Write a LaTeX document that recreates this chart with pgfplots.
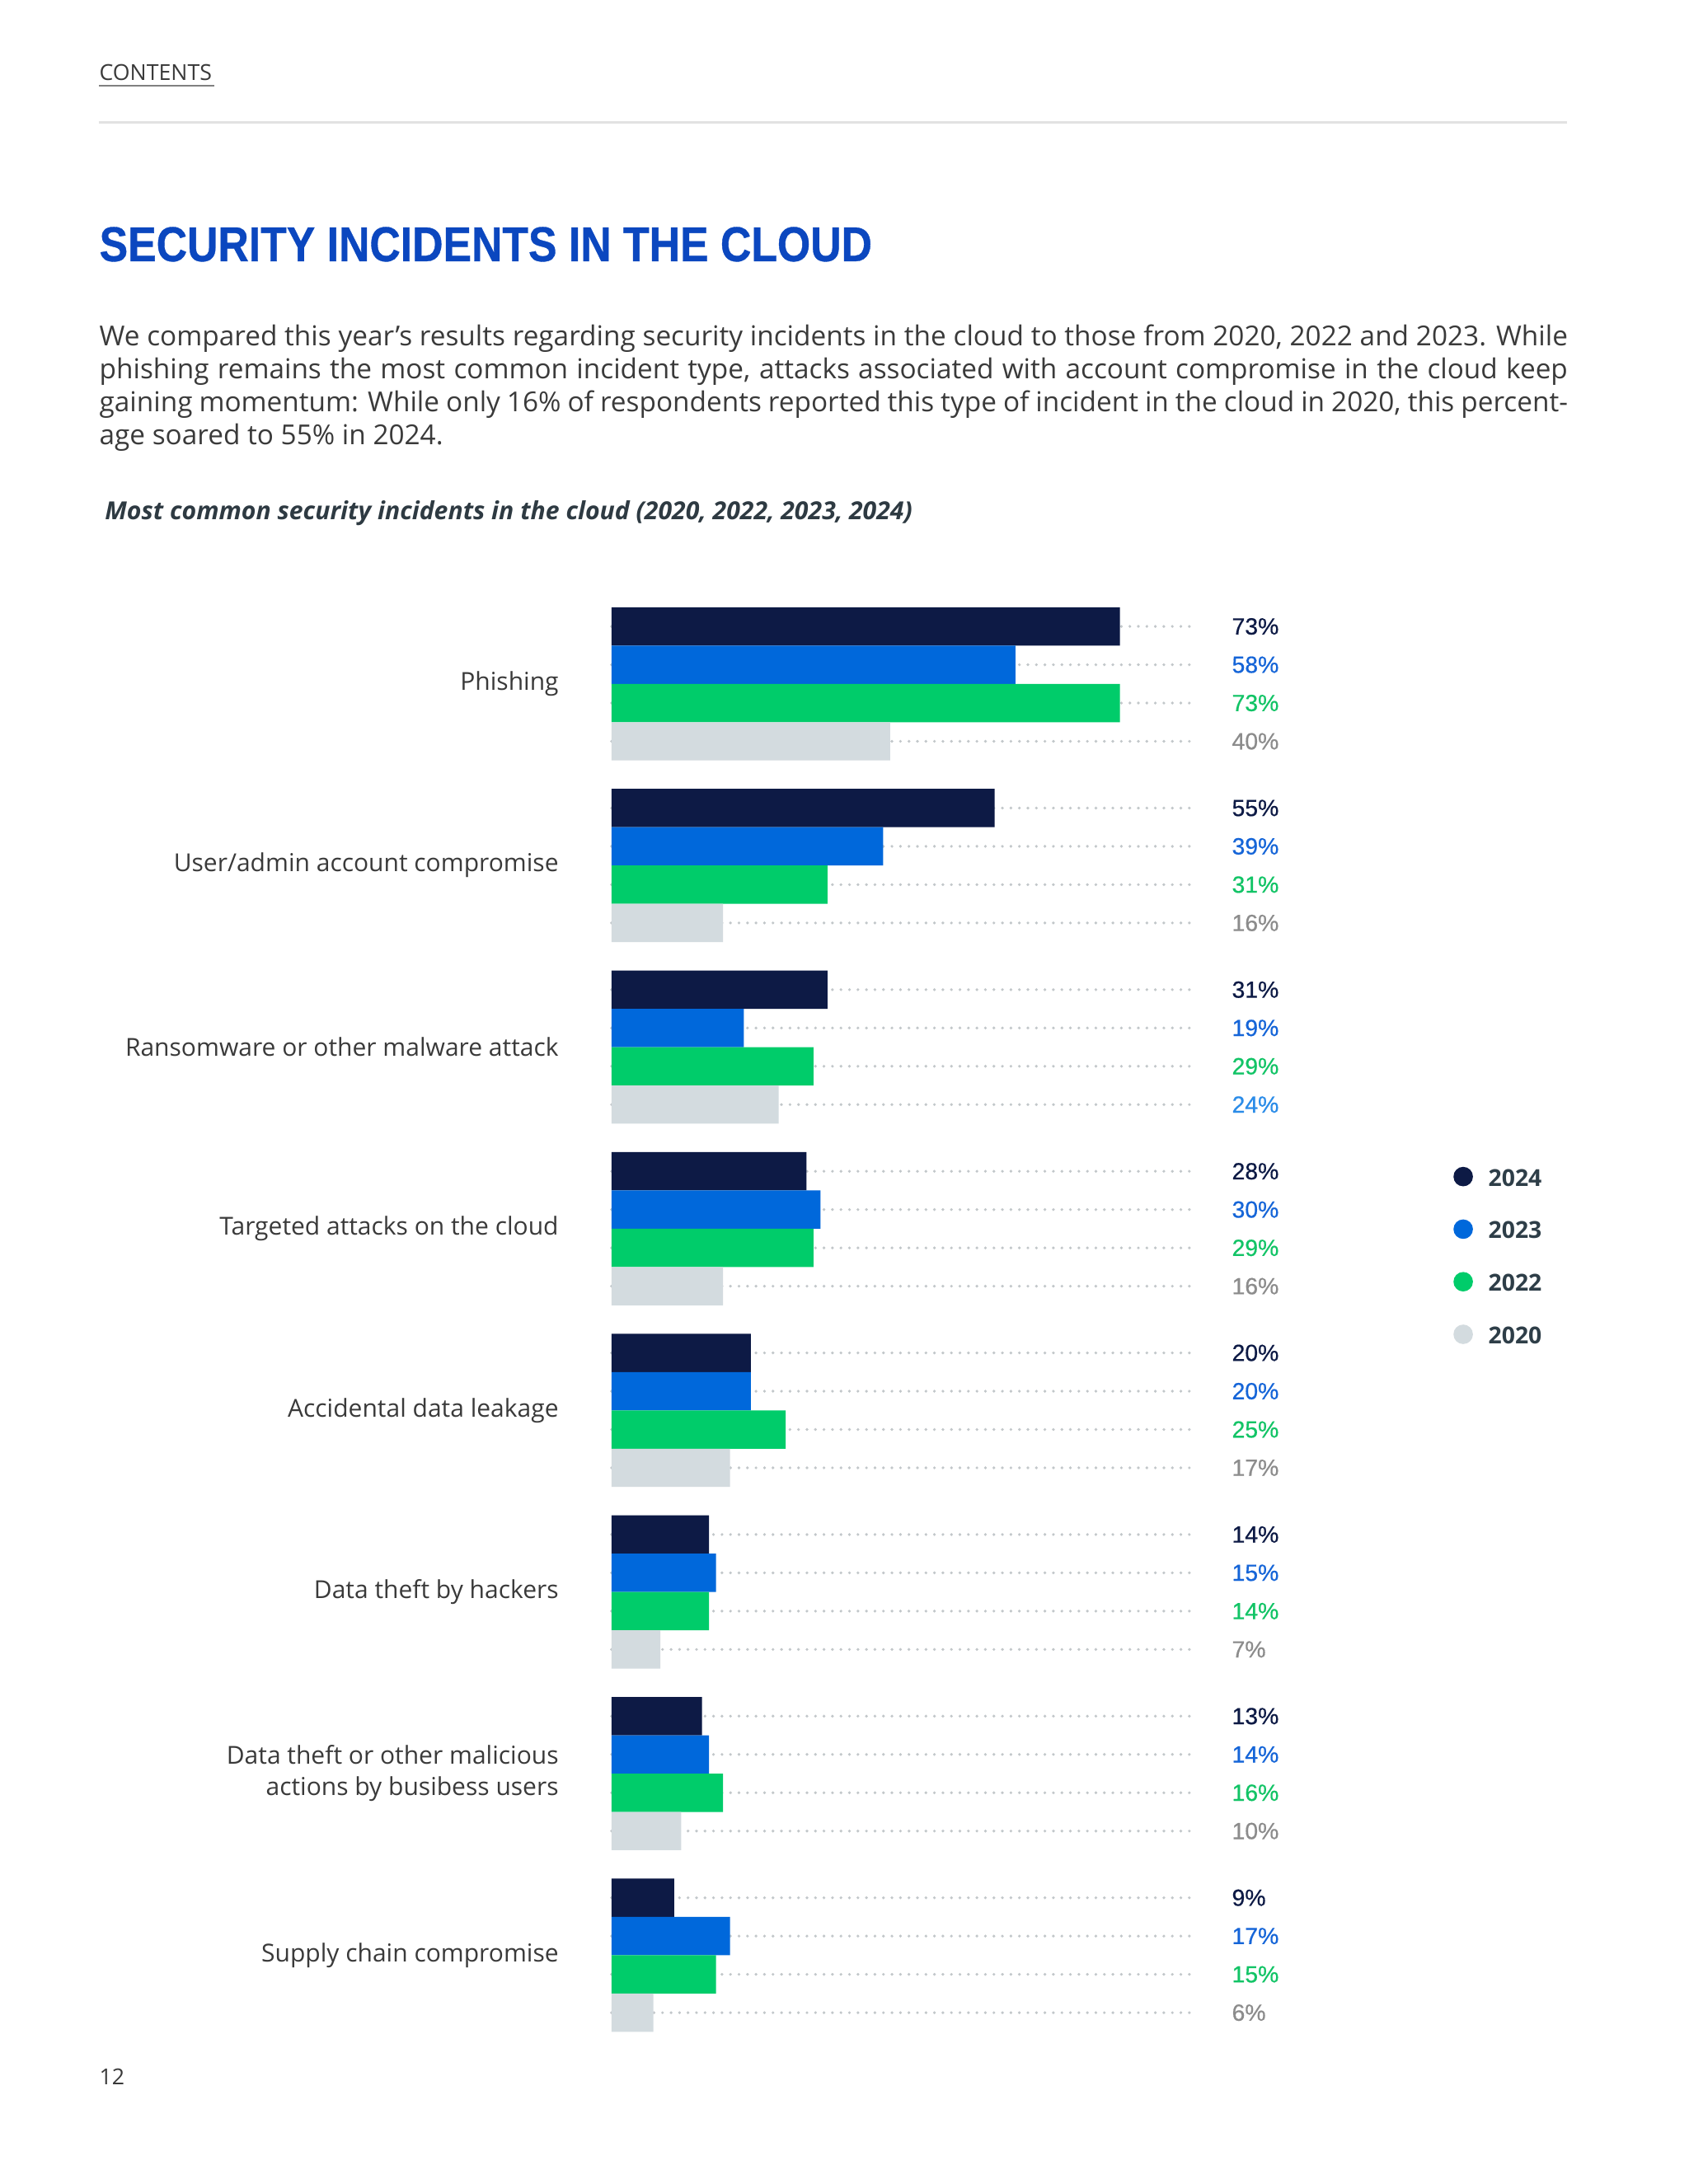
\documentclass[border=0pt]{standalone}
\usepackage{pgfplots}
\pgfplotsset{compat=1.18}
\usepackage{pgfplotstable}
\usepackage{fontspec}
\setmainfont{Open Sans}
\newfontfamily\titlefont[FakeStretch=0.872, FakeBold=0.6]{Liberation Sans}
\newfontfamily\numfont[FakeBold=0.5]{Liberation Sans}

\definecolor{c2024}{HTML}{0D1A45}
\definecolor{c2023}{HTML}{0068DB}
\definecolor{c2022}{HTML}{00CC6A}
\definecolor{c2020}{HTML}{D3DBDF}
\definecolor{l2023}{HTML}{1565D8}
\definecolor{l2022}{HTML}{12C466}
\definecolor{l2020}{HTML}{8C8C8C}
\definecolor{lblue}{HTML}{2B8CE8}
\definecolor{titleblue}{HTML}{0B47BF}
\definecolor{bodytxt}{HTML}{3A3A3A}
\definecolor{subtxt}{HTML}{2E3A42}
\definecolor{legtxt}{HTML}{2E3E48}
\definecolor{dotcol}{HTML}{C2C7CA}
\definecolor{rulecol}{HTML}{E2E2E2}

% y = category (7 = Phishing at the top); a=2024, b=2023, c=2022, d=2020
\pgfplotstableread{
cat a  b  c  d
7   73 58 73 40
6   55 39 31 16
5   31 19 29 24
4   28 30 29 16
3   20 20 25 17
2   14 15 14 7
1   13 14 16 10
0   9  17 15 6
}\incidents

\begin{document}
\begin{tikzpicture}
\fill[white] (0,0) rectangle (612bp,-791.8bp);
\path[use as bounding box] (0,0) rectangle (612bp,-791.8bp);

\begin{scope}[x=0.50495bp,y=-0.50495bp]
  \node[anchor=base west, inner sep=0, font=\fontsize{8}{9.6}\selectfont, text=bodytxt] at (71,57.6) {CONTENTS};
  \draw[gray, line width=0.5bp] (71,61.5) -- (154,61.5);
  \draw[rulecol, line width=0.8bp] (71,88) -- (1125,88);
  \node[anchor=base west, inner sep=0, font=\titlefont\bfseries\fontsize{17.8}{21}\selectfont, text=titleblue] at (71,187.5) {SECURITY INCIDENTS IN THE CLOUD};
  \begin{scope}[every node/.style={anchor=base west, inner sep=0, font=\fontsize{10}{12}\selectfont, text=bodytxt}]
    \node at (71,248) {\makebox[532.2bp][s]{We compared this year’s results regarding security incidents in the cloud to those from 2020, 2022 and 2023. While}};
    \node at (71,272) {\makebox[532.2bp][s]{phishing remains the most common incident type, attacks associated with account compromise in the cloud keep}};
    \node at (71,295.5) {\makebox[532.2bp][s]{gaining momentum: While only 16\% of respondents reported this type of incident in the cloud in 2020, this percent-}};
    \node at (71,319) {age soared to 55\% in 2024.};
  \end{scope}
  \node[anchor=base west, inner sep=0, font=\bfseries\itshape\fontsize{9.05}{11}\selectfont, text=subtxt] at (75,373) {Most common security incidents in the cloud (2020, 2022, 2023, 2024)};
  \node[anchor=base west, inner sep=0, font=\fontsize{8}{9.6}\selectfont, text=bodytxt] at (71,1497) {12};
\end{scope}

\begin{axis}[
  at={(221.67bp,-220.16bp)}, anchor=north west,
  scale only axis, width=211.57bp, height=516.46bp,
  xmin=0, xmax=83.8, ymin=-0.4218, ymax=7.4218,
  clip=false,
  axis line style={draw=none}, tick style={draw=none},
  xtick=\empty, ytick={0,...,7},
  yticklabels={Supply chain compromise,
    {Data theft or other malicious\\actions by busibess users},
    Data theft by hackers, Accidental data leakage,
    Targeted attacks on the cloud, Ransomware or other malware attack,
    User/admin account compromise, Phishing},
  yticklabel style={align=right, font=\fontsize{9.0}{11.4}\selectfont, text=bodytxt, inner xsep=0pt, xshift=-19bp},
  /pgf/number format/assume math mode=true,
  legend style={at={(1.4415,0.545)}, anchor=west, draw=none, fill=none, inner sep=0pt,
    row sep=12bp, font=\bfseries\fontsize{8.5}{10}\selectfont, text=legtxt,
    nodes={inner sep=0pt, text height=6.5bp, text depth=0pt},
    /tikz/every odd column/.append style={column sep=5.6bp}},
  legend cell align=left,
  dots/.style={xcomb, draw=dotcol, line width=1.1bp, dash pattern=on 0bp off 3.08bp, line cap=round, forget plot},
  vlabel/.style={draw=none, mark=none, forget plot, point meta=explicit,
    nodes near coords={\pgfmathprintnumber{\pgfplotspointmeta}\%},
    nodes near coords style={anchor=west, inner xsep=0pt, font=\numfont\fontsize{8.5}{10}\selectfont, text=#1}},
]
% dotted leader lines (the bars cover their left part)
\addplot[dots] table[x expr=83.8, y expr=\thisrow{cat}+0.31633] {\incidents};
\addplot[dots] table[x expr=83.8, y expr=\thisrow{cat}+0.10544] {\incidents};
\addplot[dots] table[x expr=83.8, y expr=\thisrow{cat}-0.10544] {\incidents};
\addplot[dots] table[x expr=83.8, y expr=\thisrow{cat}-0.31633] {\incidents};

% bars
\addplot[xbar, bar width=13.886bp, bar shift=20.829bp, fill=c2024, draw=none,
  legend image code/.code={\fill[c2024] (3.53bp,0.2bp) circle (3.53bp);}]
  table[x=a, y=cat] {\incidents};
\addplot[xbar, bar width=13.886bp, bar shift=6.943bp, fill=c2023, draw=none,
  legend image code/.code={\fill[c2023] (3.53bp,0.2bp) circle (3.53bp);}]
  table[x=b, y=cat] {\incidents};
\addplot[xbar, bar width=13.886bp, bar shift=-6.943bp, fill=c2022, draw=none,
  legend image code/.code={\fill[c2022] (3.53bp,0.2bp) circle (3.53bp);}]
  table[x=c, y=cat] {\incidents};
\addplot[xbar, bar width=13.886bp, bar shift=-20.829bp, fill=c2020, draw=none,
  legend image code/.code={\fill[c2020] (3.53bp,0.2bp) circle (3.53bp);}]
  table[x=d, y=cat] {\incidents};
\legend{2024,2023,2022,2020}

% value labels at the right end of the leaders
\addplot[vlabel=c2024] table[x expr=89.0, y expr=\thisrow{cat}+0.31633, meta=a] {\incidents};
\addplot[vlabel=l2023] table[x expr=89.0, y expr=\thisrow{cat}+0.10544, meta=b] {\incidents};
\addplot[vlabel=l2022] table[x expr=89.0, y expr=\thisrow{cat}-0.10544, meta=c] {\incidents};
\addplot[vlabel=l2020, skip coords between index={2}{3}] table[x expr=89.0, y expr=\thisrow{cat}-0.31633, meta=d] {\incidents};
\addplot[vlabel=lblue, skip coords between index={0}{2}, skip coords between index={3}{8}] table[x expr=89.0, y expr=\thisrow{cat}-0.31633, meta=d] {\incidents};
\end{axis}
\end{tikzpicture}
\end{document}
